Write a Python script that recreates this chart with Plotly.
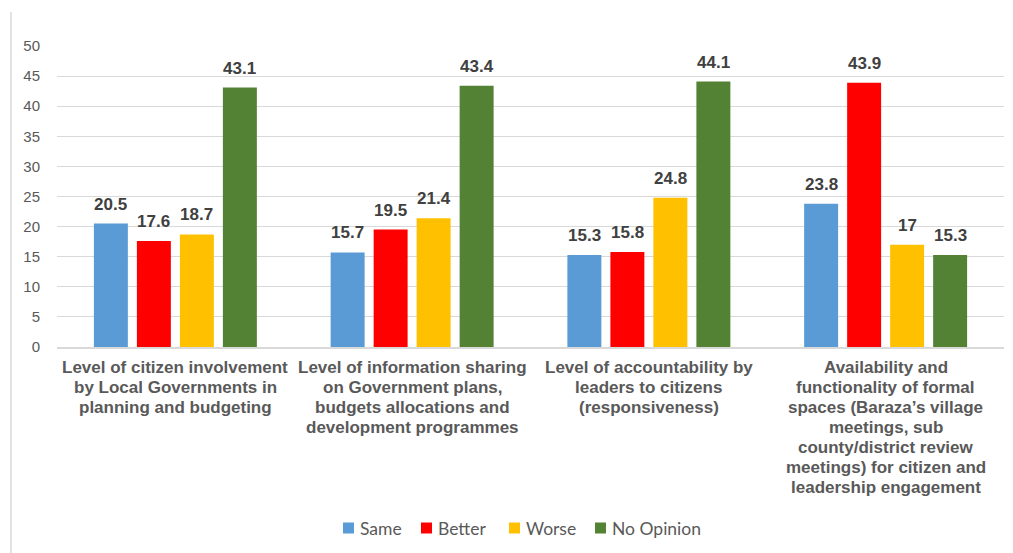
import plotly.graph_objects as go

categories = [
    "Level of citizen involvement by Local Governments in planning and budgeting",
    "Level of information sharing on Government plans, budgets allocations and development programmes",
    "Level of accountability by leaders to citizens (responsiveness)",
    "Availability and functionality of formal spaces (Baraza\u2019s village meetings, sub county/district review meetings) for citizen and leadership engagement",
]
category_lines = [
    ["Level of citizen involvement", "by Local Governments in", "planning and budgeting"],
    ["Level of information sharing", "on Government plans,", "budgets allocations and", "development programmes"],
    ["Level of accountability by", "leaders to citizens", "(responsiveness)"],
    ["Availability and", "functionality of formal", "spaces (Baraza\u2019s village", "meetings, sub",
     "county/district review", "meetings) for citizen and", "leadership engagement"],
]
series_names = ["Same", "Better", "Worse", "No Opinion"]
same = [20.5, 15.7, 15.3, 23.8]
better = [17.6, 19.5, 15.8, 43.9]
worse = [18.7, 21.4, 24.8, 17]
no_opinion = [43.1, 43.4, 44.1, 15.3]
colors = ["#5B9BD5", "#FF0000", "#FFC000", "#548235"]
y_ticks = [0, 5, 10, 15, 20, 25, 30, 35, 40, 45, 50]

W, H = 1013, 553
L, R, T, B = 57, 9, 46, 206
PW, PH = W - L - R, H - T - B
BARGAP, GROUPGAP = 0.2735, 0.21

fig = go.Figure()
all_series = [same, better, worse, no_opinion]
for name, vals, col in zip(series_names, all_series, colors):
    fig.add_trace(go.Bar(
        name=name, x=categories, y=vals,
        marker=dict(color=col, line=dict(width=0)),
        showlegend=False,
    ))

# value labels above each bar, shifted to the bar's slot within its group
cat_px = PW / len(categories)
slot_px = cat_px * (1 - BARGAP) / len(all_series)
for k, vals in enumerate(all_series):
    shift = (k - (len(all_series) - 1) / 2) * slot_px
    for cat, v in zip(categories, vals):
        fig.add_annotation(
            x=cat, y=v, text=f"<b>{v:g}</b>", showarrow=False,
            xanchor="center", yanchor="bottom", xshift=shift, yshift=8,
            font=dict(family="Liberation Sans, Arial", size=17, color="#404040"),
        )

# category labels, one line at a time for tight line spacing
LINE_PX = 20
for cat, lines in zip(categories, category_lines):
    for i, line in enumerate(lines):
        fig.add_annotation(
            x=cat, xref="x", y=0, yref="paper", text=f"<b>{line}</b>",
            showarrow=False, xanchor="center", yanchor="top",
            yshift=-(9 + i * LINE_PX),
            font=dict(family="Liberation Sans, Arial", size=17, color="#595959"),
        )

# legend: coloured squares with series names beneath the plot
legend_sq_px = [343, 421, 509, 595]
legend_y_px = 528
sq = 11
for name, col, xp in zip(series_names, colors, legend_sq_px):
    fig.add_shape(
        type="rect", xref="paper", yref="paper",
        x0=(xp - L) / PW, x1=(xp + sq - L) / PW,
        y0=(H - B - (legend_y_px + sq / 2)) / PH, y1=(H - B - (legend_y_px - sq / 2)) / PH,
        fillcolor=col, line=dict(width=0),
    )
    fig.add_annotation(
        x=(xp + sq + 4 - L) / PW, xref="paper",
        y=(H - B - legend_y_px) / PH, yref="paper",
        text=name, showarrow=False, xanchor="left", yanchor="middle",
        font=dict(family="Lato, Open Sans", size=17.5, color="#595959"),
    )

fig.update_layout(
    width=W, height=H,
    margin=dict(l=L, r=R, t=T, b=B, autoexpand=False),
    paper_bgcolor="white", plot_bgcolor="white",
    barmode="group", bargap=BARGAP, bargroupgap=GROUPGAP,
    font=dict(family="Liberation Sans, Arial", color="#595959"),
    showlegend=False,
    xaxis=dict(
        showgrid=False, showline=True, linecolor="#D9D9D9", linewidth=1.5,
        ticks="", showticklabels=False, fixedrange=True,
    ),
    yaxis=dict(
        range=[0, 50], tickvals=y_ticks, showgrid=True, gridcolor="#D9D9D9", gridwidth=1,
        zeroline=False, showline=False, ticks="",
        tickfont=dict(family="Liberation Sans, Arial", size=15, color="#595959"),
        ticklabelstandoff=16,
    ),
)

# thin chart-area border on the left edge
fig.add_shape(type="line", xref="paper", yref="paper",
              x0=(11 - L) / PW, x1=(11 - L) / PW,
              y0=(H - B - 12) / PH, y1=(H - B - H) / PH,
              line=dict(color="#D9D9D9", width=1.5))

fig.write_html("out.html")
